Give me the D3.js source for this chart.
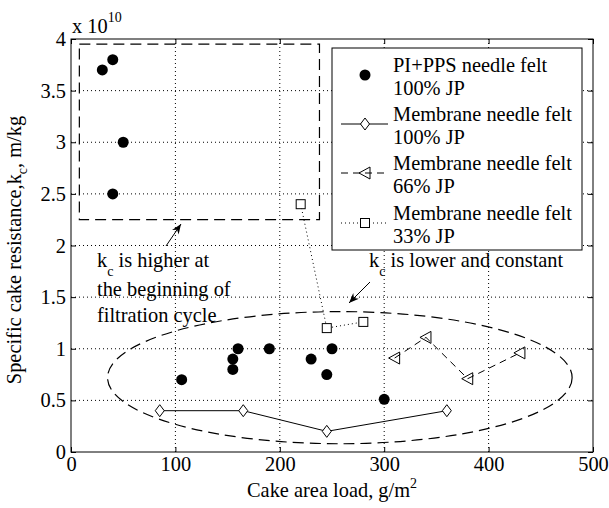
<!DOCTYPE html>
<html><head><meta charset="utf-8">
<script src="https://cdn.jsdelivr.net/npm/d3@7"></script>
</head><body style="margin:0;background:#fff"><svg id="c" width="609" height="508" style="display:block"></svg>
<script>
// ---- data ----
const xTicks = [0,100,200,300,400,500];
const yTicks = [0,0.5,1,1.5,2,2.5,3,3.5,4];
const yTickLabels = ["0","0.5","1","1.5","2","2.5","3","3.5","4"];
const dotsX = [30,40,50,40,106,155,155,160,190,230,245,250,300];
const dotsY = [3.7,3.8,3.0,2.5,0.7,0.9,0.8,1.0,1.0,0.9,0.75,1.0,0.51];
const diamondX = [85,165,245,360];
const diamondY = [0.4,0.4,0.2,0.4];
const triX = [310,340,380,430];
const triY = [0.91,1.11,0.71,0.96];
const sqX = [220,245,280];
const sqY = [2.4,1.2,1.26];
const legendLabels = [["PI+PPS needle felt","100% JP"],["Membrane needle felt","100% JP"],["Membrane needle felt","66% JP"],["Membrane needle felt","33% JP"]];
const boxRegion = [8,2.25,238,3.95];      // x0,y0,x1,y1 in data units
const ellipseRegion = [257.5,0.72,222.5,0.64]; // cx,cy,rx,ry in data units

const svg = d3.select("#c");
const m = {l:71,t:39,r:593,b:452};
const x = d3.scaleLinear().domain([0,500]).range([m.l,m.r]);
const y = d3.scaleLinear().domain([0,4]).range([m.b,m.t]);
const W = m.r-m.l, H = m.b-m.t;
const FS = 20.4, SS = 14;
const FF = "Liberation Serif";
function txt(sel){return sel.append("text").attr("font-family",FF).attr("font-size",FS).attr("fill","#000");}

// grid
const g = svg.append("g");
g.selectAll(".gx").data(xTicks.slice(1,-1)).enter().append("line")
 .attr("x1",d=>x(d)).attr("x2",d=>x(d)).attr("y1",m.t).attr("y2",m.b)
 .attr("stroke","#000").attr("stroke-width",1).attr("stroke-dasharray","1,3");
g.selectAll(".gy").data(yTicks.slice(1,-1)).enter().append("line")
 .attr("y1",d=>y(d)).attr("y2",d=>y(d)).attr("x1",m.l).attr("x2",m.r)
 .attr("stroke","#000").attr("stroke-width",1).attr("stroke-dasharray","1,3");

// axes with inward ticks
const ax = svg.append("g").attr("transform",`translate(0,${m.b})`)
 .call(d3.axisBottom(x).tickValues(xTicks).tickSize(-5).tickPadding(5).tickFormat(d3.format("d")));
const axT = svg.append("g").attr("transform",`translate(0,${m.t})`)
 .call(d3.axisTop(x).tickValues(xTicks).tickSize(-5).tickFormat(""));
const ay = svg.append("g").attr("transform",`translate(${m.l},0)`)
 .call(d3.axisLeft(y).tickValues(yTicks).tickSize(-5).tickPadding(5).tickFormat((d,i)=>yTickLabels[i]));
const ayR = svg.append("g").attr("transform",`translate(${m.r},0)`)
 .call(d3.axisRight(y).tickValues(yTicks).tickSize(-5).tickFormat(""));
[ax,axT,ay,ayR].forEach(a=>{a.attr("font-family",FF).attr("font-size",FS);a.select(".domain").remove();a.selectAll("line").attr("stroke","#000");
 a.selectAll("text").attr("fill","#000").attr("font-family",FF).attr("font-size",FS);});
svg.append("rect").attr("x",m.l).attr("y",m.t).attr("width",W).attr("height",H)
 .attr("fill","none").attr("stroke","#000").attr("stroke-width",1);

// exponent
const ex = txt(svg).attr("x",72).attr("y",33);
ex.append("tspan").text("x 10");
ex.append("tspan").attr("dy",-11).attr("font-size",SS).text("10");

// regions
svg.append("rect").attr("x",x(boxRegion[0])).attr("y",y(boxRegion[3]))
 .attr("width",x(boxRegion[2])-x(boxRegion[0])).attr("height",y(boxRegion[1])-y(boxRegion[3]))
 .attr("fill","none").attr("stroke","#000").attr("stroke-width",1.2).attr("stroke-dasharray","11,6");
svg.append("ellipse").attr("cx",x(ellipseRegion[0])).attr("cy",y(ellipseRegion[1]))
 .attr("rx",x(ellipseRegion[2])-x(0)).attr("ry",y(0)-y(ellipseRegion[3]))
 .attr("fill","none").attr("stroke","#000").attr("stroke-width",1.2).attr("stroke-dasharray","11,6");

// series lines
const line = d3.line().x(d=>x(d[0])).y(d=>y(d[1]));
const zip=(a,b)=>a.map((v,i)=>[v,b[i]]);
svg.append("path").attr("d",line(zip(diamondX,diamondY))).attr("fill","none").attr("stroke","#000").attr("stroke-width",1);
svg.append("path").attr("d",line(zip(triX,triY))).attr("fill","none").attr("stroke","#000").attr("stroke-width",1).attr("stroke-dasharray","7,5");
svg.append("path").attr("d",line(zip(sqX,sqY))).attr("fill","none").attr("stroke","#000").attr("stroke-width",1).attr("stroke-dasharray","1,3");

// markers
function dot(sel,cx,cy){sel.append("circle").attr("cx",cx).attr("cy",cy).attr("r",5.5).attr("fill","#000");}
function diamond(sel,cx,cy){sel.append("path").attr("d",`M${cx},${cy-6}L${cx+4.5},${cy}L${cx},${cy+6}L${cx-4.5},${cy}Z`).attr("fill","#fff").attr("stroke","#000");}
function tri(sel,cx,cy){sel.append("path").attr("d",`M${cx-6},${cy}L${cx+5},${cy-6}L${cx+5},${cy+6}Z`).attr("fill","none").attr("stroke","#000");}
function sq(sel,cx,cy){sel.append("rect").attr("x",cx-4.5).attr("y",cy-4.5).attr("width",9).attr("height",9).attr("fill","#fff").attr("stroke","#000");}
const mk = svg.append("g");
dotsX.forEach((v,i)=>dot(mk,x(v),y(dotsY[i])));
diamondX.forEach((v,i)=>diamond(mk,x(v),y(diamondY[i])));
triX.forEach((v,i)=>tri(mk,x(v),y(triY[i])));
sqX.forEach((v,i)=>sq(mk,x(v),y(sqY[i])));

// annotations
function kcText(x0,yb,rest){
  const t=txt(svg).attr("x",x0).attr("y",yb);
  t.append("tspan").text("k");
  t.append("tspan").attr("dy",9).attr("font-size",SS).text("c");
  t.append("tspan").attr("dy",-9).text(" "+rest);
}
kcText(97,267,"is higher at");
txt(svg).attr("x",97).attr("y",296).text("the beginning of");
txt(svg).attr("x",97).attr("y",322).text("filtration cycle");
kcText(369,267,"is lower and constant");

const defs=svg.append("defs");
defs.append("marker").attr("id","ah").attr("viewBox","0 0 10 10").attr("refX",10).attr("refY",5)
 .attr("markerWidth",14).attr("markerHeight",10).attr("markerUnits","userSpaceOnUse").attr("orient","auto")
 .append("path").attr("d","M0,1L10,5L0,9L3,5Z").attr("fill","#000");
svg.append("line").attr("x1",166).attr("y1",246).attr("x2",181).attr("y2",224).attr("stroke","#000").attr("marker-end","url(#ah)");
svg.append("line").attr("x1",370).attr("y1",282).attr("x2",349).attr("y2",303).attr("stroke","#000").attr("marker-end","url(#ah)");

// legend
const lg = svg.append("g");
lg.append("rect").attr("x",332).attr("y",48).attr("width",250).attr("height",202).attr("fill","#fff").attr("stroke","#000");
const symY=[75,124,173,223];
legendLabels.forEach((lab,i)=>{
  const cy=symY[i];
  if(i===1) lg.append("line").attr("x1",341).attr("x2",388).attr("y1",cy).attr("y2",cy).attr("stroke","#000");
  if(i===2) lg.append("line").attr("x1",341).attr("x2",388).attr("y1",cy).attr("y2",cy).attr("stroke","#000").attr("stroke-dasharray","7,5");
  if(i===3) lg.append("line").attr("x1",341).attr("x2",388).attr("y1",cy).attr("y2",cy).attr("stroke","#000").attr("stroke-dasharray","1,3");
  [dot,diamond,tri,sq][i](lg,365,cy);
  txt(lg).attr("x",393).attr("y",cy-3).text(lab[0]);
  txt(lg).attr("x",393).attr("y",cy+20).text(lab[1]);
});

// axis titles
const xl=txt(svg).attr("x",247).attr("y",497);
xl.append("tspan").text("Cake area load, g/m");
xl.append("tspan").attr("dy",-9).attr("font-size",SS).text("2");
const yl=txt(svg).attr("transform","translate(21,250) rotate(-90)").attr("text-anchor","middle");
yl.append("tspan").text("Specific cake resistance,k");
yl.append("tspan").attr("dy",6).attr("font-size",SS).text("c");
yl.append("tspan").attr("dy",-6).text(", m/kg");
</script></body></html>
